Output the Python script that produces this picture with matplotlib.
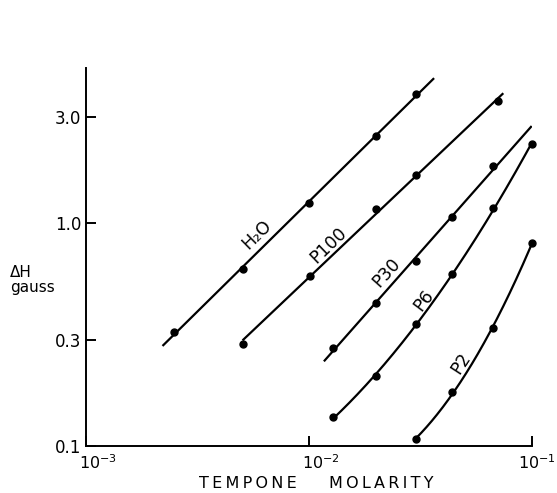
import numpy as np
import matplotlib
matplotlib.use("Agg")
import matplotlib.pyplot as plt
import matplotlib.transforms as mtransforms

plt.rcParams['font.family'] = ['DejaVu Sans']

# Tempone line width vs. concentration for each solvent
h2o_x = [0.0025, 0.00505, 0.0100, 0.0201, 0.0303]
h2o_y = [0.324, 0.624, 1.225, 2.45, 3.80]

p100_x = [0.00505, 0.0101, 0.0201, 0.0303, 0.0708]
p100_y = [0.288, 0.580, 1.156, 1.636, 3.52]

p30_x = [0.0129, 0.0201, 0.0303, 0.0441, 0.0673]
p30_y = [0.276, 0.438, 0.676, 1.06, 1.80]

p6_x = [0.0129, 0.0201, 0.0303, 0.0441, 0.0673, 0.100]
p6_y = [0.135, 0.205, 0.352, 0.589, 1.172, 2.25]

p2_x = [0.0303, 0.0441, 0.0673, 0.100]
p2_y = [0.1075, 0.175, 0.339, 0.81]

series_names = ["H₂O", "P100", "P30", "P6", "P2"]
# concentration span covered by each fitted curve
curve_span = [(0.00221, 0.0365), (0.00505, 0.0746), (0.0117, 0.100),
              (0.0129, 0.100), (0.0303, 0.100)]
fit_degree = [1, 1, 1, 2, 2]
# label anchor (x, y) and angle along each curve
label_pos = [(0.00588, 0.883), (0.01224, 0.797), (0.0222, 0.599),
             (0.0329, 0.451), (0.0480, 0.235)]
label_rot = [44.5, 44, 48, 53, 57]

x_ticks = [1e-3, 1e-2, 1e-1]
x_tick_labels = ["$10^{-3}$", "$10^{-2}$", "$10^{-1}$"]
y_ticks = [0.1, 0.3, 1.0, 3.0]
y_tick_labels = ["0.1", "0.3", "1.0", "3.0"]

W, H = 557, 493
fig = plt.figure(figsize=(W / 100, H / 100), dpi=100)
left, right, bottom, top = 85.7, 531.7, 446, 68
ax = fig.add_axes([left / W, (H - bottom) / H, (right - left) / W, (bottom - top) / H])
ax.set_xscale('log')
ax.set_yscale('log')
ax.set_xlim(1e-3, 1e-1)
decades_y = (bottom - top) / ((right - left) / 2)
ax.set_ylim(0.1, 0.1 * 10 ** decades_y)

all_x = [h2o_x, p100_x, p30_x, p6_x, p2_x]
all_y = [h2o_y, p100_y, p30_y, p6_y, p2_y]

for xs, ys, span, deg, name, pos, rot in zip(all_x, all_y, curve_span, fit_degree,
                                              series_names, label_pos, label_rot):
    lx, ly = np.log10(xs), np.log10(ys)
    coef = np.polyfit(lx, ly, deg)
    xx = np.linspace(np.log10(span[0]), np.log10(span[1]), 200)
    ax.plot(10 ** xx, 10 ** np.polyval(coef, xx), color='black', lw=1.6,
            solid_capstyle='butt')
    ax.plot(xs, ys, 'o', color='black', ms=5, clip_on=False)
    ax.text(pos[0], pos[1], name, rotation=rot, rotation_mode='anchor',
            ha='center', va='center', fontsize=12.5)

for s in ['top', 'right']:
    ax.spines[s].set_visible(False)
for s in ['left', 'bottom']:
    ax.spines[s].set_linewidth(1.4)

ax.set_xticks(x_ticks)
ax.set_xticklabels(x_tick_labels, fontsize=11.5)
ax.set_yticks(y_ticks)
ax.set_yticklabels(y_tick_labels, fontsize=12)
ax.minorticks_off()
ax.tick_params(axis='both', direction='in', length=7, width=1.4, color='black')
ax.tick_params(axis='y', pad=3)
ax.tick_params(axis='x', pad=5)

shift = mtransforms.ScaledTranslation(-7 / 100, 0, fig.dpi_scale_trans)
xlabels = ax.get_xticklabels()
for lab in xlabels[:-1]:
    lab.set_ha('left')
    lab.set_transform(lab.get_transform() + shift)
# keep the last decade label inside the figure
last_shift = mtransforms.ScaledTranslation(24 / 100, 0, fig.dpi_scale_trans)
xlabels[-1].set_ha('right')
xlabels[-1].set_transform(xlabels[-1].get_transform() + last_shift)

fig.text(10 / W, 1 - 280 / H, "ΔH\ngauss", ha='left', va='center',
         fontsize=11, linespacing=1.0)
ts = "\u2009"
fig.text(248 / W, 1 - 483 / H, ts.join("TEMPONE"), ha='center', va='center', fontsize=11.5)
fig.text(381 / W, 1 - 483 / H, ts.join("MOLARITY"), ha='center', va='center', fontsize=11.5)

fig.savefig("out.png", dpi=100)
